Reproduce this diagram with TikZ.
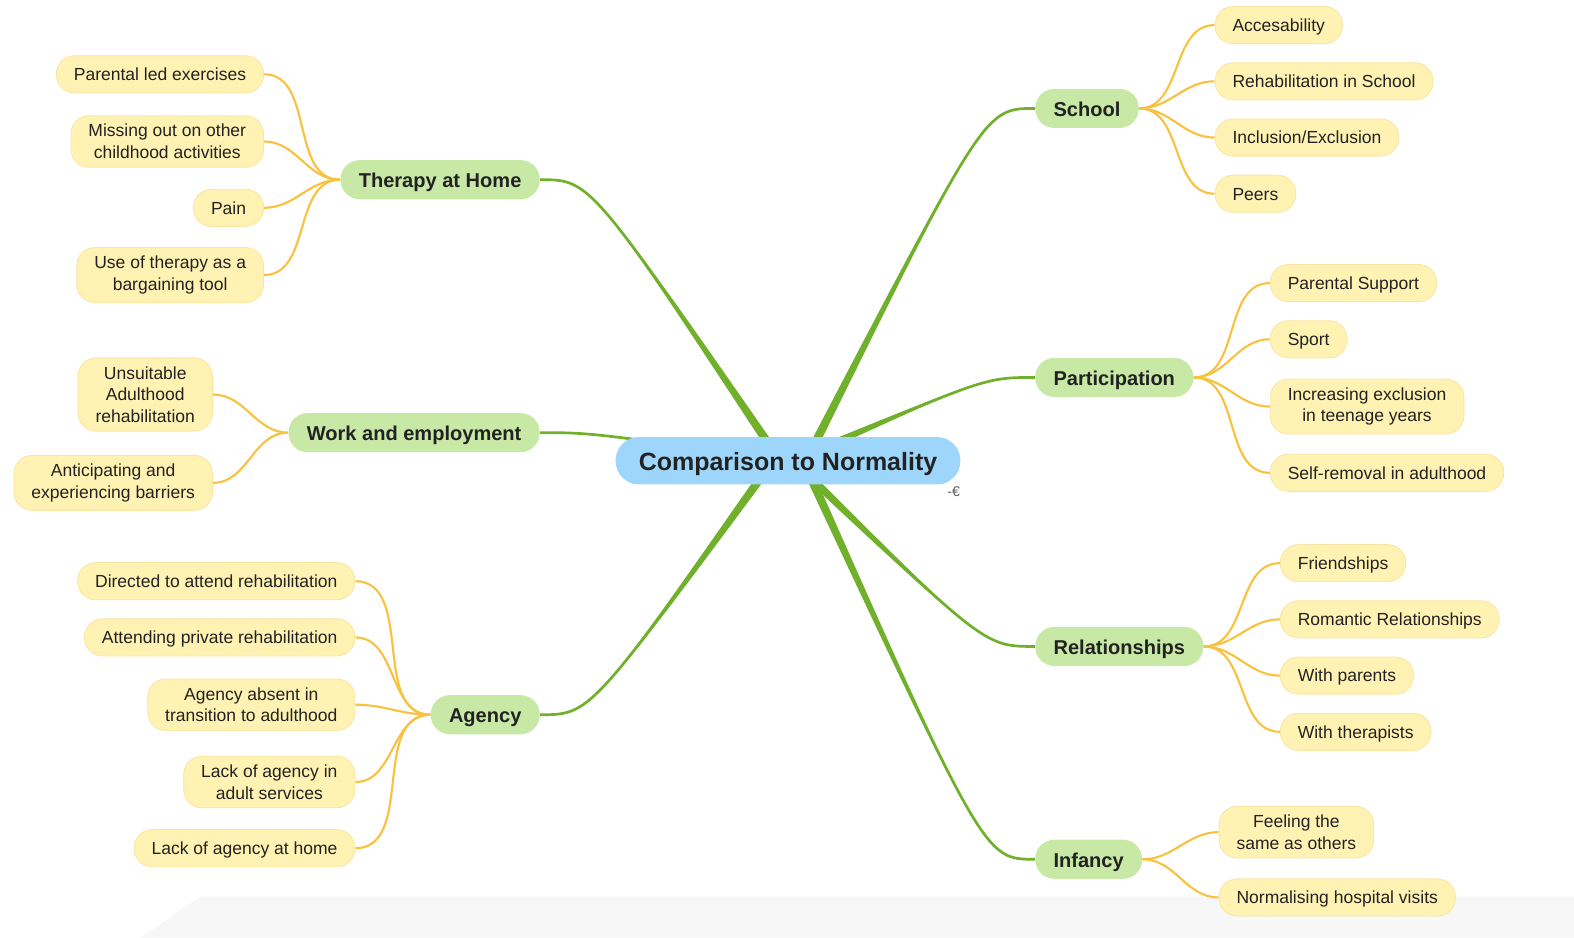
\documentclass[tikz,border=0pt]{standalone}
\usepackage{fontspec}
\setmainfont{Liberation Sans}
\usetikzlibrary{calc,backgrounds}
\definecolor{leafbg}{HTML}{FFF2B2}
\definecolor{leafrim}{HTML}{F9E6A4}
\definecolor{topicbg}{HTML}{C8E8A6}
\definecolor{rootbg}{HTML}{9DD6FA}
\definecolor{trunkcol}{HTML}{70B02A}
\definecolor{twigcol}{HTML}{F8C23E}
\definecolor{inkcol}{HTML}{222222}
\tikzset{
  leaf/.style={fill=leafbg, draw=leafrim, line width=0.6pt, rounded corners=0.45cm,
    inner xsep=12.4pt, inner ysep=6pt, minimum height=0.925cm, align=center,
    text=inkcol, font=\fontsize{12.4}{15.4}\selectfont},
  oneline/.style={text height=9pt, text depth=0pt},
  topic/.style={fill=topicbg, rounded corners=0.48cm, inner xsep=13pt,
    minimum height=0.975cm, text height=11.6pt, text depth=0pt,
    text=inkcol, font=\fontsize{14.2}{17}\selectfont\bfseries},
  root/.style={fill=rootbg, rounded corners=0.58cm, inner xsep=16.4pt,
    minimum height=1.18cm, text height=13.4pt, text depth=0pt,
    text=inkcol, font=\fontsize{17.7}{21}\selectfont\bfseries},
  twig/.style={draw=twigcol, line width=1.5pt},
}
\newcommand{\trunk}[3]{%
  \path (cmp.center) ++(#3,0) coordinate (o);
  \path (#1) ++(#2,0) coordinate (k);
  \fill[trunkcol] ($(o)!3.2pt!90:(k)$) .. controls (k) .. (#1)
    .. controls (k) .. ($(o)!3.2pt!-90:(k)$) -- cycle;
  \draw[trunkcol, line width=1.9pt] (o) .. controls (k) .. (#1);
}
\begin{document}
\begin{tikzpicture}[x=0.025cm, y=-0.025cm]
  \useasboundingbox (0,0) rectangle (1568,934);
  \node[root] (cmp) at (785,459) {Comparison to Normality};
  \node[text=black!65, font=\fontsize{10}{11}\selectfont] (mark) at (950,490) {-€};

  \node[topic, anchor=east] (home) at (538,179) {Therapy at Home};
  \node[topic, anchor=east] (work) at (538,431) {Work and employment};
  \node[topic, anchor=east] (agency) at (538,712) {Agency};
  \node[topic, anchor=west] (school) at (1031,108) {School};
  \node[topic, anchor=west] (partic) at (1031,376) {Participation};
  \node[topic, anchor=west] (relat) at (1031,644) {Relationships};
  \node[topic, anchor=west] (infancy) at (1031,856) {Infancy};

  \node[leaf, oneline, anchor=east] (h1) at (263,74) {Parental led exercises};
  \node[leaf, anchor=east] (h2) at (263,141) {Missing out on other\\childhood activities};
  \node[leaf, oneline, anchor=east] (h3) at (263,207) {Pain};
  \node[leaf, anchor=east] (h4) at (263,274) {Use of therapy as a\\bargaining tool};

  \node[leaf, anchor=east] (w1) at (212,393) {Unsuitable\\Adulthood\\rehabilitation};
  \node[leaf, anchor=east] (w2) at (212,481) {Anticipating and\\experiencing barriers};

  \node[leaf, oneline, anchor=east] (a1) at (354,579) {Directed to attend rehabilitation};
  \node[leaf, oneline, anchor=east] (a2) at (354,635) {Attending private rehabilitation};
  \node[leaf, anchor=east] (a3) at (354,702) {Agency absent in\\transition to adulthood};
  \node[leaf, anchor=east] (a4) at (354,779) {Lack of agency in\\adult services};
  \node[leaf, oneline, anchor=east] (a5) at (354,845) {Lack of agency at home};

  \node[leaf, oneline, anchor=west] (s1) at (1210,25) {Accesability};
  \node[leaf, oneline, anchor=west] (s2) at (1210,81) {Rehabilitation in School};
  \node[leaf, oneline, anchor=west] (s3) at (1210,137) {Inclusion/Exclusion};
  \node[leaf, oneline, anchor=west] (s4) at (1210,193) {Peers};

  \node[leaf, oneline, anchor=west] (p1) at (1265,282) {Parental Support};
  \node[leaf, oneline, anchor=west] (p2) at (1265,338) {Sport};
  \node[leaf, anchor=west] (p3) at (1265,405) {Increasing exclusion\\in teenage years};
  \node[leaf, oneline, anchor=west] (p4) at (1265,471) {Self-removal in adulthood};

  \node[leaf, oneline, anchor=west] (r1) at (1275,561) {Friendships};
  \node[leaf, oneline, anchor=west] (r2) at (1275,617) {Romantic Relationships};
  \node[leaf, oneline, anchor=west] (r3) at (1275,673) {With parents};
  \node[leaf, oneline, anchor=west] (r4) at (1275,729) {With therapists};

  \node[leaf, anchor=west] (i1) at (1214,829) {Feeling the\\same as others};
  \node[leaf, oneline, anchor=west] (i2) at (1214,894) {Normalising hospital visits};

  \begin{scope}[on background layer]
    \fill[black!3] (140,934) -- (200,893) -- (1568,893) -- (1568,934) -- cycle;
    \trunk{home.east}{50}{-8}
    \trunk{work.east}{50}{0}
    \trunk{agency.east}{50}{-15}
    \trunk{school.west}{-50}{18}
    \trunk{partic.west}{-50}{5}
    \trunk{relat.west}{-50}{5}
    \trunk{infancy.west}{-50}{15}
    \foreach \n in {h1,h2,h3,h4}
      \draw[twig] (home.west) to[out=180, in=0] (\n.east);
    \foreach \n in {w1,w2}
      \draw[twig] (work.west) to[out=180, in=0] (\n.east);
    \foreach \n in {a1,a2,a3,a4,a5}
      \draw[twig] (agency.west) to[out=180, in=0] (\n.east);
    \foreach \n in {s1,s2,s3,s4}
      \draw[twig] (school.east) to[out=0, in=180] (\n.west);
    \foreach \n in {p1,p2,p3,p4}
      \draw[twig] (partic.east) to[out=0, in=180] (\n.west);
    \foreach \n in {r1,r2,r3,r4}
      \draw[twig] (relat.east) to[out=0, in=180] (\n.west);
    \foreach \n in {i1,i2}
      \draw[twig] (infancy.east) to[out=0, in=180] (\n.west);
  \end{scope}
\end{tikzpicture}
\end{document}
